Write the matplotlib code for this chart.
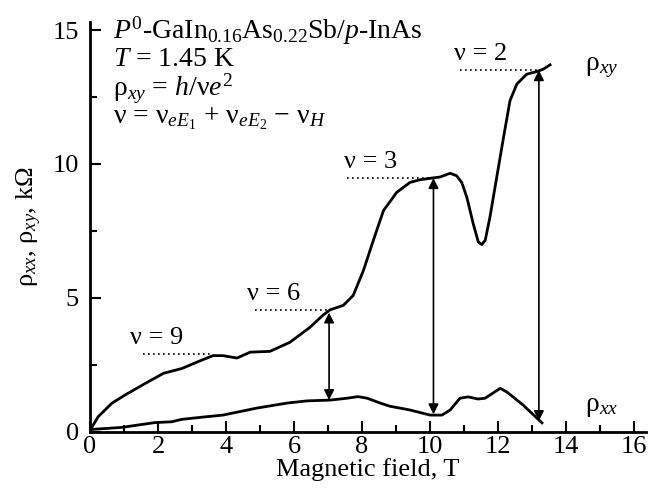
import matplotlib.pyplot as plt
from matplotlib.ticker import MultipleLocator

plt.rcParams['font.family'] = ['Liberation Serif', 'DejaVu Serif']
plt.rcParams['mathtext.fontset'] = 'custom'
plt.rcParams['mathtext.rm'] = 'Liberation Serif'
plt.rcParams['mathtext.it'] = 'Liberation Serif:italic'

# rho_xy (kOhm) vs B (T)
b_xy = [0, 0.24, 0.64, 1.03, 1.62, 2.16, 2.7, 3.28, 3.62, 3.91, 4.32, 4.71, 5.29, 5.88,
        6.47, 6.85, 7.06, 7.45, 7.74, 8.04, 8.33, 8.63, 9.02, 9.41, 9.71, 10.1, 10.29,
        10.59, 10.78, 10.93, 11.08, 11.27, 11.42, 11.52, 11.62, 11.76, 11.96, 12.16,
        12.35, 12.55, 12.84, 13.14, 13.33, 13.53]
rho_xy = [0.05, 0.56, 1.06, 1.37, 1.8, 2.18, 2.36, 2.67, 2.84, 2.84, 2.75, 2.97, 3.0, 3.34,
          3.9, 4.35, 4.55, 4.72, 5.09, 6.02, 7.14, 8.26, 8.94, 9.31, 9.41, 9.48, 9.51,
          9.65, 9.56, 9.31, 8.76, 7.76, 7.08, 6.99, 7.14, 8.01, 9.5, 10.99,
          12.36, 12.98, 13.35, 13.45, 13.54, 13.7]

# rho_xx
b_xx = [0, 0.93, 1.91, 2.4, 2.7, 3.28, 3.91, 4.9, 5.8, 6.38, 7.06, 7.56, 7.88, 8.15, 8.53,
        8.82, 9.41, 10.0, 10.35, 10.59, 10.88, 11.12, 11.41, 11.62, 12.06, 12.26, 12.74, 13.29]
rho_xx = [0.08, 0.16, 0.34, 0.37, 0.46, 0.54, 0.62, 0.88, 1.07, 1.15, 1.18, 1.25, 1.31, 1.25, 1.07,
          0.95, 0.81, 0.62, 0.62, 0.81, 1.25, 1.3, 1.22, 1.25, 1.62, 1.48, 0.99, 0.33]

# filling factors: label, plateau level, dotted line start/end
nu_labels = ['9', '6', '3', '2']
nu_levels = [2.9, 4.53, 9.47, 13.5]
nu_x0 = [1.56, 4.85, 7.56, 10.88]
nu_x1 = [3.62, 7.06, 10.1, 13.15]
nu_text_x = [1.97, 5.4, 8.24, 11.5]

# double arrows between rho_xx and rho_xy
arr_x = [7.03, 10.1, 13.2]
arr_top = [4.45, 9.47, 13.5]
arr_bot = [1.18, 0.65, 0.4]

fs = 19

fig = plt.figure(figsize=(6.6, 4.99), dpi=100)
ax = fig.add_axes([0.1364, 0.1349, 0.8424, 0.821])

ax.plot(b_xy, rho_xy, color='black', lw=2, solid_joinstyle='round')
ax.plot(b_xx, rho_xx, color='black', lw=2, solid_joinstyle='round')

for lab, lev, x0, x1, tx in zip(nu_labels, nu_levels, nu_x0, nu_x1, nu_text_x):
    ax.plot([x0, x1], [lev, lev], color='black', lw=1.2, ls=(0, (1, 2)))
    ax.text(tx, lev + 0.2, 'ν = ' + lab, fontsize=fs, ha='center', va='bottom')

for x, yt, yb in zip(arr_x, arr_top, arr_bot):
    ax.annotate('', xy=(x, yt), xytext=(x, yb),
                arrowprops=dict(arrowstyle='<|-|>', color='black', lw=1.2,
                                mutation_scale=15, shrinkA=0, shrinkB=0))

ax.text(14.55, 13.6, 'ρ$_{xy}$', fontsize=fs + 1, va='center')
ax.text(14.55, 0.95, 'ρ$_{xx}$', fontsize=fs + 1, va='center')

# sample / conditions block, top left
ax.text(0.68, 14.97, '$P^0$-GaIn$_{0.16}$As$_{0.22}$Sb/$p$-InAs', fontsize=fs + 1, va='center')
ax.text(0.68, 13.9, '$T$ = 1.45 K', fontsize=fs + 1, va='center')
ax.text(0.68, 12.8, 'ρ$_{xy}$ = $h$/ν$e^2$', fontsize=fs + 1, va='center')
ax.text(0.68, 11.7, 'ν = ν$_{eE_1}$ + ν$_{eE_2}$ − ν$_H$', fontsize=fs + 1, va='center')

ax.set_xlim(0, 16.35)
ax.set_ylim(0, 15.3)
ax.xaxis.set_major_locator(MultipleLocator(2))
ax.xaxis.set_minor_locator(MultipleLocator(1))
ax.yaxis.set_major_locator(MultipleLocator(5))
ax.yaxis.set_minor_locator(MultipleLocator(2.5))
ax.tick_params(which='both', direction='in', width=1.5, labelsize=fs)
ax.tick_params(which='major', length=8)
ax.tick_params(which='minor', length=5)
ax.tick_params(axis='x', pad=3)
ax.tick_params(axis='y', pad=8)
ax.spines['top'].set_visible(False)
ax.spines['right'].set_visible(False)
ax.spines['left'].set_linewidth(2)
ax.spines['bottom'].set_linewidth(2)

ax.set_xlabel('Magnetic field, T', fontsize=fs, labelpad=0)
ax.set_ylabel('ρ$_{xx}$, ρ$_{xy}$, kΩ', fontsize=fs, labelpad=6)

fig.savefig('out.png', dpi=100)
